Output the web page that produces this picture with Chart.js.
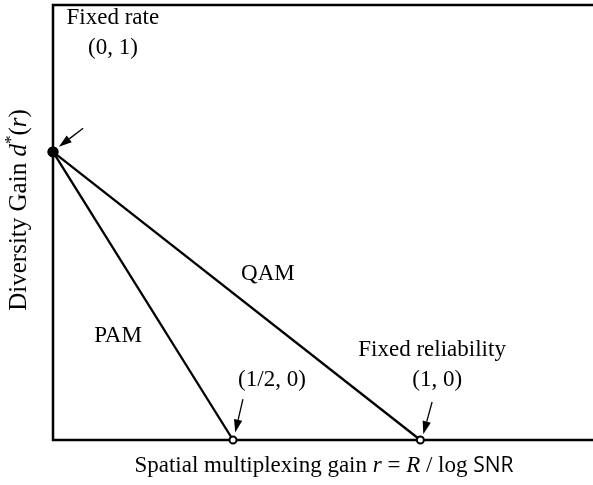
<!DOCTYPE html>
<html>
<head>
<meta charset="utf-8">
<script src="https://cdn.jsdelivr.net/npm/chart.js@4.4.1/dist/chart.umd.min.js"></script>
<style>
  html, body { margin: 0; padding: 0; background: #fff; overflow: hidden; }
  #chart { display: block; }
</style>
</head>
<body>
<canvas id="chart" width="593" height="485"></canvas>
<script>
// diversity-multiplexing tradeoff curves
const pamR = [0, 0.49];
const pamD = [1, 0];
const qamR = [0, 1];
const qamD = [1, 0];

// annotation texts, placed in data coordinates
const notes = [
  { text: 'Fixed rate', x: 0.163, y: 1.464 },
  { text: '(0, 1)', x: 0.163, y: 1.360 },
  { text: 'QAM', x: 0.585, y: 0.576 },
  { text: 'PAM', x: 0.177, y: 0.361 },
  { text: 'Fixed reliability', x: 1.032, y: 0.312 },
  { text: '(1, 0)', x: 1.046, y: 0.208 },
  { text: '(1/2, 0)', x: 0.596, y: 0.208 },
];
const arrows = [
  { from: [0.082, 1.082], to: [0.016, 1.018] },
  { from: [0.517, 0.142], to: [0.496, 0.026] },
  { from: [1.032, 0.132], to: [1.008, 0.020] },
];

const SERIF = '"Liberation Serif", "Times New Roman", serif';

function toPts(xs, ys) {
  return xs.map((x, i) => ({ x: x, y: ys[i] }));
}

function drawRich(ctx, parts, cx, cy) {
  let total = 0;
  parts.forEach(p => {
    ctx.font = p.font;
    p.w = ctx.measureText(p.t).width;
    total += p.w;
  });
  let x = cx - total / 2;
  parts.forEach(p => {
    ctx.font = p.font;
    ctx.fillText(p.t, x, cy + (p.dy || 0));
    x += p.w;
  });
}

const annotate = {
  id: 'annotate',
  beforeDatasetsDraw(chart) {
    const { ctx, chartArea: a } = chart;
    ctx.save();
    ctx.strokeStyle = '#000';
    ctx.lineWidth = 2.5;
    ctx.lineCap = 'square';
    ctx.beginPath();
    ctx.moveTo(chart.width, a.top);
    ctx.lineTo(a.left, a.top);
    ctx.lineTo(a.left, a.bottom);
    ctx.lineTo(chart.width, a.bottom);
    ctx.stroke();
    ctx.restore();
  },
  afterDatasetsDraw(chart) {
    const { ctx } = chart;
    const xs = chart.scales.x, ys = chart.scales.y;
    ctx.save();
    ctx.fillStyle = '#000';
    ctx.strokeStyle = '#000';
    ctx.textAlign = 'left';
    ctx.textBaseline = 'middle';

    notes.forEach(n => {
      drawRich(ctx, [{ t: n.text, font: '23px ' + SERIF }],
        xs.getPixelForValue(n.x), ys.getPixelForValue(n.y));
    });

    arrows.forEach(ar => {
      const x1 = xs.getPixelForValue(ar.from[0]), y1 = ys.getPixelForValue(ar.from[1]);
      const x2 = xs.getPixelForValue(ar.to[0]), y2 = ys.getPixelForValue(ar.to[1]);
      const ang = Math.atan2(y2 - y1, x2 - x1);
      const len = 13, half = 4.2;
      const bx = x2 - len * Math.cos(ang), by = y2 - len * Math.sin(ang);
      ctx.lineWidth = 1.3;
      ctx.beginPath();
      ctx.moveTo(x1, y1);
      ctx.lineTo(bx, by);
      ctx.stroke();
      ctx.beginPath();
      ctx.moveTo(x2, y2);
      ctx.lineTo(bx + half * Math.sin(ang), by - half * Math.cos(ang));
      ctx.lineTo(bx - half * Math.sin(ang), by + half * Math.cos(ang));
      ctx.closePath();
      ctx.fill();
    });

    // x axis title
    const norm = '23px ' + SERIF, ital = 'italic 23px ' + SERIF;
    drawRich(ctx, [
      { t: 'Spatial multiplexing gain ', font: norm },
      { t: 'r', font: ital },
      { t: ' = ', font: norm },
      { t: 'R', font: ital },
      { t: ' / ', font: norm },
      { t: 'log ', font: norm },
      { t: 'SNR', font: '21px "Open Sans", "Noto Sans", sans-serif' },
    ], 324, 466);

    // y axis title
    const yNorm = '25px ' + SERIF, yItal = 'italic 25px ' + SERIF;
    ctx.translate(19, 210);
    ctx.rotate(-Math.PI / 2);
    drawRich(ctx, [
      { t: 'Diversity Gain ', font: yNorm },
      { t: 'd', font: yItal },
      { t: '*', font: '17px ' + SERIF, dy: -7 },
      { t: '(', font: yNorm },
      { t: 'r', font: yItal },
      { t: ')', font: yNorm },
    ], 0, 0);
    ctx.restore();
  }
};

new Chart(document.getElementById('chart').getContext('2d'), {
  type: 'scatter',
  data: {
    datasets: [
      {
        label: 'PAM',
        data: toPts(pamR, pamD),
        showLine: true,
        borderColor: '#000',
        borderWidth: 2.3,
        pointRadius: [4.5, 3.5],
        pointBorderWidth: 2,
        pointBorderColor: '#000',
        pointBackgroundColor: ['#000', '#fff'],
        clip: false,
      },
      {
        label: 'QAM',
        data: toPts(qamR, qamD),
        showLine: true,
        borderColor: '#000',
        borderWidth: 2.3,
        pointRadius: [4.5, 3.5],
        pointBorderWidth: 2,
        pointBorderColor: '#000',
        pointBackgroundColor: ['#000', '#fff'],
        clip: false,
      },
    ],
  },
  options: {
    responsive: false,
    animation: false,
    layout: { autoPadding: false, padding: { left: 53, top: 5, right: 0, bottom: 45 } },
    plugins: { legend: { display: false }, tooltip: { enabled: false } },
    scales: {
      x: { type: 'linear', display: false, min: 0, max: 1.47 },
      y: { type: 'linear', display: false, min: 0, max: 1.51 },
    },
  },
  plugins: [annotate],
});
</script>
</body>
</html>
